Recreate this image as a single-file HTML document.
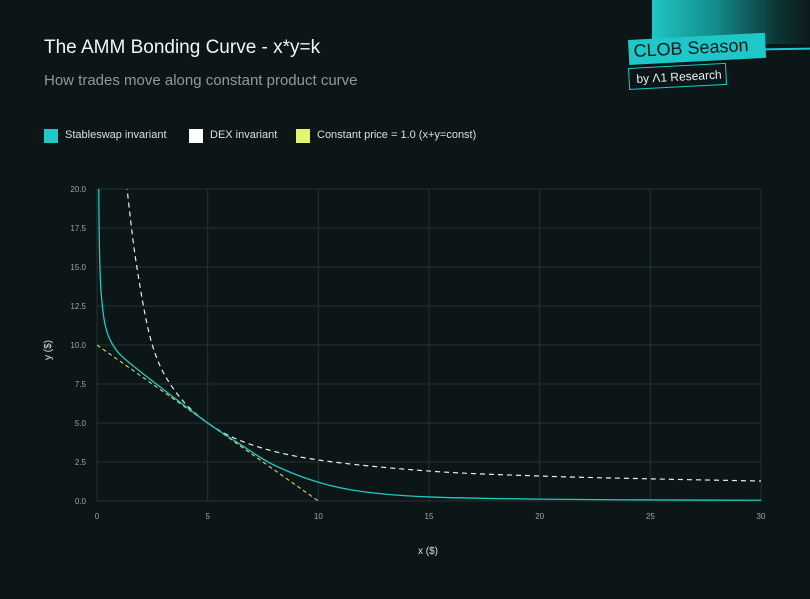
<!DOCTYPE html>
<html><head><meta charset="utf-8"><style>
html,body{margin:0;padding:0;background:#0c1616;}
body{width:810px;height:599px;overflow:hidden;position:relative;font-family:"Liberation Sans",sans-serif;}
.t{position:absolute;white-space:nowrap;}
</style></head><body>
<div style="position:absolute;left:652px;top:0;width:158px;height:44px;background:linear-gradient(90deg,#1fc6c4 0%,#148c8c 40%,#0c3333 80%,#0c1b1b 100%);"></div>
<div style="position:absolute;left:760px;top:48px;width:50px;height:2px;background:#1ec8c8;transform:rotate(-1deg);"></div>
<div style="position:absolute;left:628px;top:40px;width:137px;height:25px;background:#1ec8c8;transform:rotate(-3deg);transform-origin:left top;"></div>
<div class="t" style="left:633px;top:41px;font-size:18px;color:#0c1a1a;transform:rotate(-3deg);transform-origin:left top;">CLOB Season</div>
<div style="position:absolute;left:628px;top:68px;width:96px;height:20px;background:#0c1616;border:1.5px solid #1ec8c8;transform:rotate(-3deg);transform-origin:left top;"></div>
<div class="t" style="left:636px;top:72px;font-size:12px;color:#e8f0f0;transform:rotate(-3deg);transform-origin:left top;">by Λ1 Research</div>

<div class="t" style="left:44px;top:37px;font-size:19px;color:#f2f5f5;">The AMM Bonding Curve - x*y=k</div>
<div class="t" style="left:44px;top:72px;font-size:15px;color:#8e9a9a;">How trades move along constant product curve</div>

<div style="position:absolute;left:44px;top:129px;width:14px;height:14px;background:#1ec8c8"></div>
<div class="t" style="left:65px;top:129px;font-size:11px;color:#d8e0e0;">Stableswap invariant</div>
<div style="position:absolute;left:189px;top:129px;width:14px;height:14px;background:#ffffff"></div>
<div class="t" style="left:210px;top:129px;font-size:11px;color:#d8e0e0;">DEX invariant</div>
<div style="position:absolute;left:296px;top:129px;width:14px;height:14px;background:#e2f56e"></div>
<div class="t" style="left:317px;top:129px;font-size:11px;color:#d8e0e0;">Constant price = 1.0 (x+y=const)</div>

<svg id="s" width="810" height="599" style="position:absolute;left:0;top:0" font-family="Liberation Sans, sans-serif">
<g id="grid" stroke="#243232" stroke-width="1"></g>
<g id="lab" fill="#9aa6a6" font-size="8"></g>
<text x="428" y="554" fill="#d8e0e0" font-size="10" text-anchor="middle">x ($)</text>
<text transform="translate(51,350) rotate(-90)" fill="#d8e0e0" font-size="10" text-anchor="middle">y ($)</text>
<defs><clipPath id="c"><rect x="97" y="189" width="664" height="312"/></clipPath></defs>
<g clip-path="url(#c)" fill="none">
<path id="cp" stroke="#d9ee66" stroke-width="1" stroke-dasharray="4,3"/>
<path id="dx" stroke="#e8eeee" stroke-width="1.2" stroke-dasharray="5,4"/>
<path id="ss" stroke="#1ec8c8" stroke-width="1.3"/>
</g>
</svg>
<script>
var X=function(x){return 97+x*664/30},Y=function(y){return 501-y*312/20};
var g=document.getElementById('grid'),l=document.getElementById('lab'),h='',t='';
for(var i=0;i<=6;i++){var x=X(i*5);h+='<line x1="'+x+'" y1="189" x2="'+x+'" y2="501"/>';t+='<text x="'+x+'" y="519" text-anchor="middle">'+(i*5)+'</text>';}
for(var j=0;j<=8;j++){var y=Y(j*2.5);h+='<line x1="97" y1="'+y+'" x2="761" y2="'+y+'"/>';t+='<text x="86" y="'+(y+3)+'" text-anchor="end">'+(j*2.5).toFixed(1)+'</text>';}
g.innerHTML=h;l.innerHTML=t;
document.getElementById('cp').setAttribute('d','M'+X(0)+','+Y(10)+'L'+X(10)+','+Y(0));
function cr(pts){var P=pts.map(function(p){return [X(p[0]),Y(p[1])];});var d='M'+P[0][0]+','+P[0][1];
for(var k=0;k<P.length-1;k++){var p0=P[Math.max(k-1,0)],p1=P[k],p2=P[k+1],p3=P[Math.min(k+2,P.length-1)];
d+='C'+(p1[0]+(p2[0]-p0[0])/6).toFixed(2)+','+(p1[1]+(p2[1]-p0[1])/6).toFixed(2)+' '+(p2[0]-(p3[0]-p1[0])/6).toFixed(2)+','+(p2[1]-(p3[1]-p1[1])/6).toFixed(2)+' '+p2[0].toFixed(2)+','+p2[1].toFixed(2);}
return d;}
document.getElementById('dx').setAttribute('d',cr([[1.25,22],[1.36,20],[1.8,15],[2.5,10],[3.5,7.1],[5,5],[7,3.6],[10,2.63],[15,1.92],[20,1.6],[25,1.42],[30,1.28],[31,1.25]]));
document.getElementById('ss').setAttribute('d',cr([[0.07,22],[0.08,20],[0.1,17],[0.15,14.2],[0.24,12.5],[0.38,11.2],[0.6,10.3],[1.0,9.45],[1.6,8.7],[2.4,7.8],[3.5,6.6],[5,5],[6.5,3.6],[8,2.3],[10,1.2],[12,0.6],[15,0.26],[20,0.12],[25,0.07],[30,0.05],[31,0.05]]));
</script>
</body></html>
